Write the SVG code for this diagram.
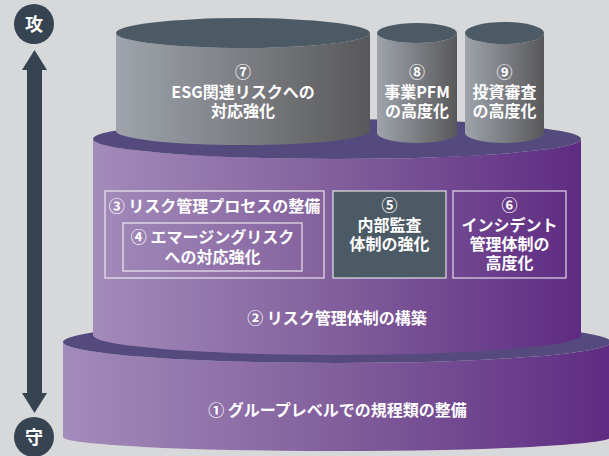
<svg xmlns="http://www.w3.org/2000/svg" width="609" height="456" viewBox="0 0 609 456">
<defs>
<linearGradient id="gPurple" x1="0" y1="0" x2="1" y2="0">
<stop offset="0" stop-color="#a38bba"/>
<stop offset="0.5" stop-color="#825f9c"/>
<stop offset="1" stop-color="#5e2b82"/>
</linearGradient>
<linearGradient id="gGray" x1="0" y1="0" x2="1" y2="0">
<stop offset="0" stop-color="#9fa4ac"/>
<stop offset="1" stop-color="#58585a"/>
</linearGradient>
<style>
.t{font-family:"Noto Sans CJK JP","Noto Sans",sans-serif;font-size:16px;font-weight:700;fill:#ffffff;text-anchor:middle}
.top-p{fill:#554a7e}
.top-g{fill:#4c5a65}
.body-p{fill:url(#gPurple)}
.body-g{fill:url(#gGray)}
.frame{fill:none;stroke:#ffffff;stroke-opacity:0.75;stroke-width:1.3}
.badge{fill:#364350}
.bt{font-family:"Noto Sans CJK JP","Noto Sans",sans-serif;font-size:18px;font-weight:700;fill:#ffffff;text-anchor:middle}
</style>
</defs>
<rect x="0" y="0" width="609" height="456" fill="#d7d8da"/>

<g id="tier1">
<path class="body-p" d="M63,342 L63,437 A274,14 0 0 0 611,437 L611,342 A274,21 0 0 1 63,342 Z"/>
<ellipse class="top-p" cx="337" cy="342" rx="274" ry="21"/>
<text class="t" x="337.5" y="416">① グループレベルでの規程類の整備</text>
</g>

<g id="tier2">
<path class="body-p" d="M93,139 L93,335 A244,20 0 0 0 581,335 L581,139 A244,20 0 0 1 93,139 Z"/>
<ellipse class="top-p" cx="337" cy="139" rx="244" ry="20"/>
<text class="t" x="337" y="324">② リスク管理体制の構築</text>
</g>

<g id="cyl7">
<path class="body-g" d="M116,33 L116,131 A127,14 0 0 0 370,131 L370,33 A127,15 0 0 1 116,33 Z"/>
<ellipse class="top-g" cx="243" cy="33" rx="127" ry="15"/>
<text class="t" x="243" y="78">⑦</text>
<text class="t" x="243" y="98">ESG関連リスクへの</text>
<text class="t" x="243" y="117">対応強化</text>
</g>

<g id="cyl8">
<path class="body-g" d="M377,33 L377,133 A40,10 0 0 0 457,133 L457,33 A40,10 0 0 1 377,33 Z"/>
<ellipse class="top-g" cx="417" cy="33" rx="40" ry="10"/>
<text class="t" x="417" y="78">⑧</text>
<text class="t" x="417" y="98">事業PFM</text>
<text class="t" x="417" y="117">の高度化</text>
</g>

<g id="cyl9">
<path class="body-g" d="M465,33 L465,133 A39.5,10 0 0 0 544,133 L544,33 A39.5,11 0 0 1 465,33 Z"/>
<ellipse class="top-g" cx="504.5" cy="33" rx="39.5" ry="11"/>
<text class="t" x="504.5" y="78">⑨</text>
<text class="t" x="504.5" y="98">投資審査</text>
<text class="t" x="504.5" y="117">の高度化</text>
</g>

<g id="box3">
<rect class="frame" x="105" y="191" width="219" height="87"/>
<text class="t" x="214.5" y="212">③ リスク管理プロセスの整備</text>
</g>

<g id="box4">
<rect class="frame" x="123" y="223" width="179" height="48"/>
<text class="t" x="212.5" y="243">④ エマージングリスク</text>
<text class="t" x="212.5" y="263">への対応強化</text>
</g>

<g id="box5">
<rect x="333" y="191" width="113" height="87" fill="#4c5a65" stroke="#ffffff" stroke-opacity="0.75" stroke-width="1.3"/>
<text class="t" x="389.5" y="211">⑤</text>
<text class="t" x="389.5" y="231">内部監査</text>
<text class="t" x="389.5" y="250">体制の強化</text>
</g>

<g id="box6">
<rect class="frame" x="453" y="191" width="113" height="87"/>
<text class="t" x="509.5" y="211">⑥</text>
<text class="t" x="509.5" y="231">インシデント</text>
<text class="t" x="509.5" y="250">管理体制の</text>
<text class="t" x="509.5" y="269">高度化</text>
</g>

<g id="connectors">
<path class="badge" d="M34.5,50 L47,70 L42,70 L42,393 L47,393 L34.5,413 L22,393 L27,393 L27,70 L22,70 Z"/>
</g>

<g id="badge-top">
<circle class="badge" cx="34" cy="24" r="20"/>
<text class="bt" x="34" y="30.5">攻</text>
</g>

<g id="badge-bottom">
<circle class="badge" cx="34" cy="437" r="20"/>
<text class="bt" x="34" y="443.5">守</text>
</g>
</svg>
